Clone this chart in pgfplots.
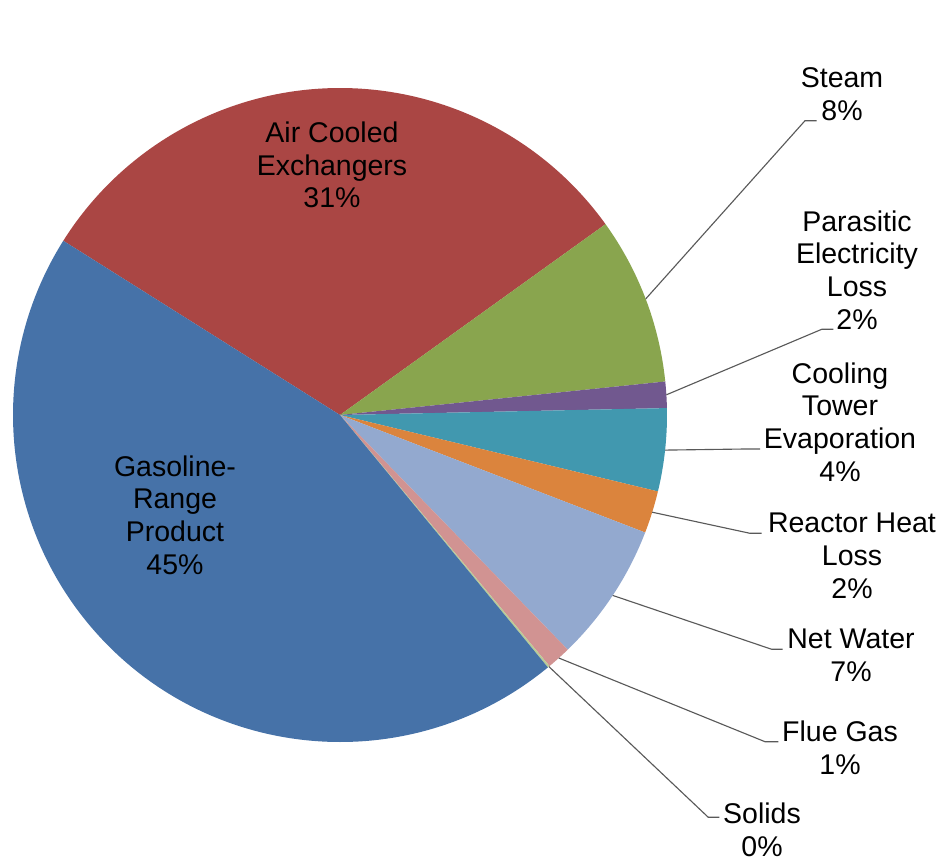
\documentclass[border=0pt]{standalone}
\usepackage{pgfplots}
\pgfplotsset{compat=1.18}
\usepackage{fontspec}
\setmainfont{Liberation Sans}
\definecolor{gascol}{HTML}{4672A8}
\definecolor{aircol}{HTML}{AA4644}
\definecolor{steamcol}{HTML}{89A54E}
\definecolor{parcol}{HTML}{71588F}
\definecolor{coolcol}{HTML}{4198AF}
\definecolor{reaccol}{HTML}{DB843D}
\definecolor{netcol}{HTML}{93A9CF}
\definecolor{fluecol}{HTML}{D19392}
\definecolor{solcol}{HTML}{B9CD96}
\definecolor{leadcol}{HTML}{595959}
\begin{document}
\begin{tikzpicture}
% shares of the pie (percent)
\def\vAir{31.2}\def\vSteam{8.3}\def\vPar{1.3}\def\vCool{4.1}%
\def\vReac{2.1}\def\vNet{6.9}\def\vFlue{1.2}\def\vSol{0.1}\def\vGas{45.0}%
\pgfmathsetmacro{\tot}{\vAir+\vSteam+\vPar+\vCool+\vReac+\vNet+\vFlue+\vSol+\vGas}%
\pgfmathsetmacro{\k}{360/\tot}%
\pgfmathsetmacro{\aA}{147.8}%
\pgfmathsetmacro{\aB}{\aA-\vAir*\k}%
\pgfmathsetmacro{\aC}{\aB-\vSteam*\k}%
\pgfmathsetmacro{\aD}{\aC-\vPar*\k}%
\pgfmathsetmacro{\aE}{\aD-\vCool*\k}%
\pgfmathsetmacro{\aF}{\aE-\vReac*\k}%
\pgfmathsetmacro{\aG}{\aF-\vNet*\k}%
\pgfmathsetmacro{\aH}{\aG-\vFlue*\k}%
\pgfmathsetmacro{\aI}{\aH-\vSol*\k}%
\pgfmathsetmacro{\aJ}{\aI-\vGas*\k}%
\def\R{130.8pt}%
\begin{axis}[
  scale only axis, width=376pt, height=345.2pt,
  xmin=0, xmax=940, ymin=0, ymax=863,
  hide axis, clip=false,
]
\coordinate (BL) at (axis cs:0,0);
\coordinate (TR) at (axis cs:940,863);
\fill[aircol]   (axis cs:340,448) -- ([shift={(\aA:\R)}]axis cs:340,448) arc[start angle=\aA, end angle=\aB, radius=\R] -- cycle;
\fill[steamcol] (axis cs:340,448) -- ([shift={(\aB:\R)}]axis cs:340,448) arc[start angle=\aB, end angle=\aC, radius=\R] -- cycle;
\fill[parcol]   (axis cs:340,448) -- ([shift={(\aC:\R)}]axis cs:340,448) arc[start angle=\aC, end angle=\aD, radius=\R] -- cycle;
\fill[coolcol]  (axis cs:340,448) -- ([shift={(\aD:\R)}]axis cs:340,448) arc[start angle=\aD, end angle=\aE, radius=\R] -- cycle;
\fill[reaccol]  (axis cs:340,448) -- ([shift={(\aE:\R)}]axis cs:340,448) arc[start angle=\aE, end angle=\aF, radius=\R] -- cycle;
\fill[netcol]   (axis cs:340,448) -- ([shift={(\aF:\R)}]axis cs:340,448) arc[start angle=\aF, end angle=\aG, radius=\R] -- cycle;
\fill[fluecol]  (axis cs:340,448) -- ([shift={(\aG:\R)}]axis cs:340,448) arc[start angle=\aG, end angle=\aH, radius=\R] -- cycle;
\fill[solcol]   (axis cs:340,448) -- ([shift={(\aH:\R)}]axis cs:340,448) arc[start angle=\aH, end angle=\aI, radius=\R] -- cycle;
\fill[gascol]   (axis cs:340,448) -- ([shift={(\aI:\R)}]axis cs:340,448) arc[start angle=\aI, end angle=\aJ, radius=\R] -- cycle;
% leader lines
\begin{scope}[leadcol, line width=0.45pt]
\draw (axis cs:645.7,564.1) -- (axis cs:805,742.3) -- (axis cs:816.7,742.3);
\draw (axis cs:666.4,468.2) -- (axis cs:821.7,533.7) -- (axis cs:833.3,533.7);
\draw (axis cs:665.1,412.9) -- (axis cs:745,414) -- (axis cs:760,414);
\draw (axis cs:652.2,350.8) -- (axis cs:750,329.7) -- (axis cs:761.7,329.7);
\draw (axis cs:612.7,267.6) -- (axis cs:771.7,213.7) -- (axis cs:782.7,213.7);
\draw (axis cs:558.8,205) -- (axis cs:765,121.3) -- (axis cs:778.3,121.3);
\draw (axis cs:548.9,196.4) -- (axis cs:708.3,45.7) -- (axis cs:719.3,45.7);
\end{scope}
% labels
\begin{scope}[every node/.style={align=center, inner sep=0pt, font=\fontsize{11.4}{13.1}\selectfont}]
\node at (axis cs:332,698) {Air Cooled\\Exchangers\\31\%};
\node at (axis cs:175,348) {Gasoline-\\Range\\Product\\45\%};
\node at (axis cs:842,769) {Steam\\8\%};
\node at (axis cs:857,593) {Parasitic\\Electricity\\Loss\\2\%};
\node at (axis cs:840,441) {Cooling\\Tower\\Evaporation\\4\%};
\node at (axis cs:852,307) {Reactor Heat\\Loss\\2\%};
\node at (axis cs:851,208) {Net Water\\7\%};
\node at (axis cs:840,115) {Flue Gas\\1\%};
\node at (axis cs:762,33) {Solids\\0\%};
\end{scope}
\end{axis}
\pgfresetboundingbox
\path[use as bounding box] (BL) rectangle (TR);
\end{tikzpicture}
\end{document}
